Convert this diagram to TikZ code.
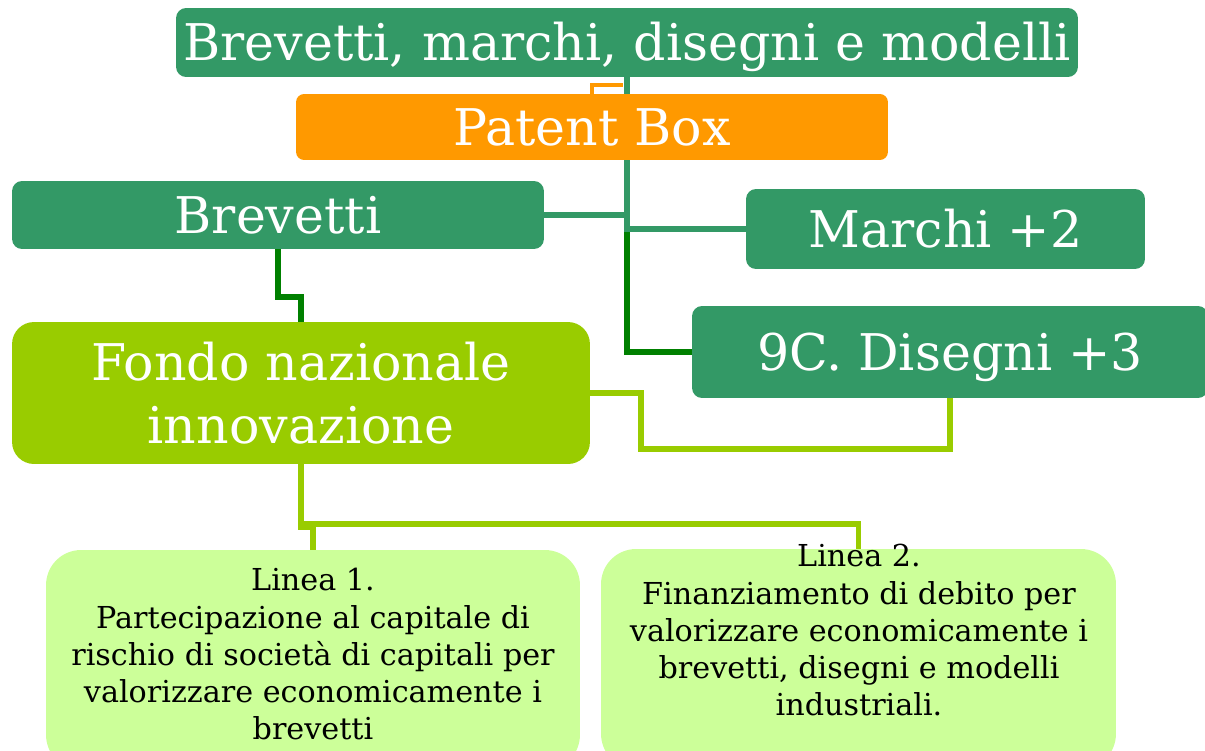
\documentclass[tikz,border=0pt]{standalone}
\usepackage{fontspec}
\setmainfont{DejaVu Serif}
\usetikzlibrary{positioning,calc,backgrounds}

\definecolor{tealG}{HTML}{339966}
\definecolor{orangeP}{HTML}{FF9900}
\definecolor{limeG}{HTML}{99CC00}
\definecolor{paleG}{HTML}{CCFF99}
\definecolor{darkG}{HTML}{008000}

\begin{document}
\begin{tikzpicture}
  [x=0.02cm,y=-0.02cm,
   bigN/.style={inner sep=0pt,text=white,font=\fontsize{28.8}{36}\selectfont},
   tealN/.style={bigN,fill=tealG,rounded corners=0.2cm,text height=24.5pt,text depth=3.5pt},
   patN/.style={bigN,fill=orangeP,rounded corners=0.16cm,text height=24.5pt,text depth=3.5pt},
   fondoN/.style={bigN,fill=limeG,rounded corners=0.44cm,align=center},
   lineaN/.style={fill=paleG,rounded corners=0.7cm,inner sep=0pt},
   lineaT/.style={inner sep=0pt,align=center,font=\fontsize{17.2}{21.2}\selectfont},
   tealL/.style={draw=tealG,line width=3.1pt},
   greenL/.style={draw=darkG,line width=3.4pt},
   limeL/.style={draw=limeG,line width=3.4pt},
   orangeL/.style={draw=orangeP,line width=2.4pt},
  ]
 \useasboundingbox (0,0) rectangle (1205,751);
 \clip (0,0) rectangle (1205,751);

 % boxes
 \node[tealN,minimum width=18.04cm,minimum height=1.38cm] (top) at (627,42.5) {Brevetti, marchi, disegni e modelli};
 \node[patN,minimum width=11.84cm,minimum height=1.32cm] (patent) at (592,127) {Patent Box};
 \node[tealN,minimum width=10.64cm,minimum height=1.36cm] (brev) at (278,215) {Brevetti};
 \node[tealN,minimum width=7.98cm,minimum height=1.6cm] (marchi) at (945.5,229) {Marchi +2};
 \node[tealN,minimum width=10.32cm,minimum height=1.84cm] (disegni) at (950,352) {9C. Disegni +3};
 \node[fondoN,minimum width=11.56cm,minimum height=2.84cm] (fondo) at (301,393) {Fondo nazionale\\innovazione};
 \node[lineaN,minimum width=10.68cm,minimum height=4.4cm] (l1box) at (313,660) {};
 \node[lineaN,minimum width=10.3cm,minimum height=4.4cm] (l2box) at (858.5,659) {};

 \node[lineaT,anchor=north] (l1text) at (313,568) {Linea 1.\\Partecipazione al capitale di\\rischio di società di capitali per\\valorizzare economicamente i\\brevetti};
 \node[lineaT,anchor=north] (l2text) at (859,544) {Linea 2.\\Finanziamento di debito per\\valorizzare economicamente i\\brevetti, disegni e modelli\\industriali.};

 % connectors
 \begin{scope}[on background layer]
  \draw[orangeL] (patent.north) -- ++(0,-9) -- ++(31,0);
  \draw[greenL] (top.south) |- (disegni.west);
  \draw[tealL] (top.south) |- (brev.east);
  \draw[tealL] (top.south) |- (marchi.west);
  \draw[greenL] (brev.south) -- ++(0,48) -| (fondo.north);
  \draw[limeL] (fondo.east) -- ++(51,0) -- ++(0,56) -| (disegni.south);
  \draw[limeL] (fondo.south) -- ++(0,60) -| (l2box.north);
  \draw[limeL] (fondo.south) -- ++(0,63) -| (l1box.north);
 \end{scope}
\end{tikzpicture}
\end{document}
